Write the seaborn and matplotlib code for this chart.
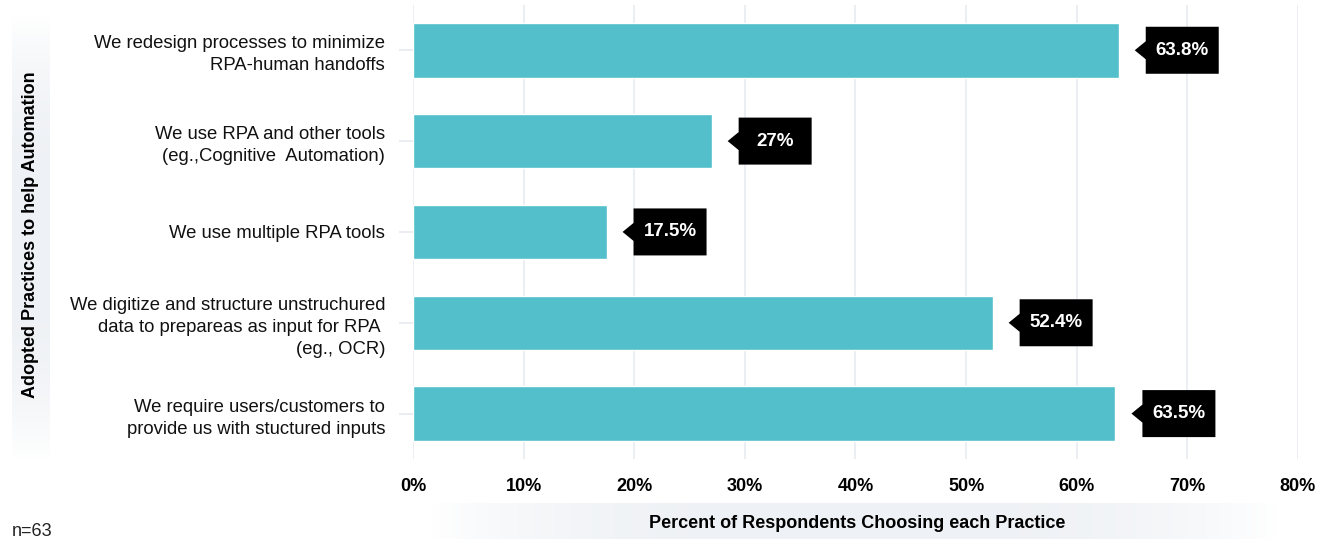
import numpy as np
import pandas as pd
import matplotlib
matplotlib.use("Agg")
import matplotlib.pyplot as plt
import matplotlib.transforms as mtransforms
from matplotlib.patches import Polygon
import seaborn as sns

categories = [
    "We redesign processes to minimize\nRPA-human handoffs",
    "We use RPA and other tools\n(eg.,Cognitive  Automation)",
    "We use multiple RPA tools",
    "We digitize and structure unstruchured\ndata to prepareas as input for RPA \n(eg., OCR)",
    "We require users/customers to\nprovide us with stuctured inputs",
]
values = [63.8, 27, 17.5, 52.4, 63.5]
xticks = [0, 10, 20, 30, 40, 50, 60, 70, 80]
xtick_labels = [f"{t}%" for t in xticks]
x_title = "Percent of Respondents Choosing each Practice"
y_title = "Adopted Practices to help Automation"
note = "n=63"

sns.set_theme(style="white")
plt.rcParams["font.family"] = ["Liberation Sans", "DejaVu Sans"]

df = pd.DataFrame({"practice": categories, "pct": values})

fig = plt.figure(figsize=(13.33, 5.39), dpi=100)
ax = fig.add_axes([0.3098, 0.1484, 0.6639, 0.8426])

sns.barplot(data=df, x="pct", y="practice", color="#52BFCB", saturation=1,
            width=0.6, ax=ax, zorder=3)

ax.set_xlim(0, 80)
ax.set_ylim(4.5, -0.5)
ax.set_xticks(xticks)
ax.set_xticklabels(xtick_labels, fontsize=13, fontweight="bold",
                   family=["Liberation Sans Narrow", "Liberation Sans"])
ax.grid(axis="x", color="#E9EDF2", linewidth=1.3, zorder=0)
ax.grid(axis="y", visible=False)
for s in ax.spines.values():
    s.set_visible(False)
ax.tick_params(axis="x", length=0, pad=14, colors="black")
ax.tick_params(axis="y", left=True, length=10, width=1.2, color="#E6EAF0",
               pad=10, labelsize=13.3, labelcolor="#111111")
for lab in ax.get_yticklabels():
    lab.set_linespacing(1.4)
ax.set_xlabel("")
ax.set_ylabel("")

# value callouts
dpi_scale = fig.dpi / 100.0
for i, v in enumerate(values):
    trans = mtransforms.Affine2D().scale(dpi_scale) + \
        mtransforms.ScaledTranslation(v, i, ax.transData)
    verts = [(16, 0), (27, -9), (27, -23.5), (100, -23.5), (100, 23.5),
             (27, 23.5), (27, 9)]
    poly = Polygon(verts, closed=True, transform=trans, facecolor="black",
                   edgecolor="none", zorder=5, clip_on=False)
    ax.add_patch(poly)
    ax.text(63.5 * dpi_scale, 0, f"{v:g}%", transform=trans, color="white",
            fontsize=13.5, fontweight="bold", ha="center", va="center",
            zorder=6, clip_on=False)

# background panels for axis titles
def gradient_panel(rect, horizontal):
    bax = fig.add_axes(rect, zorder=-1)
    n = 256
    t = np.linspace(-1, 1, n)
    prof = 1 - np.abs(t) ** 3
    if horizontal:
        img = prof[None, :]
    else:
        img = prof[:, None]
    base = np.array([1.0, 1.0, 1.0])
    tint = np.array([0xEE, 0xF1, 0xF5]) / 255.0
    rgb = base[None, None, :] * (1 - img[..., None]) + tint[None, None, :] * img[..., None]
    bax.imshow(rgb, aspect="auto", extent=[0, 1, 0, 1])
    bax.set_axis_off()
    return bax

gradient_panel([12 / 1333, 1 - 460 / 539, 38 / 1333, 445 / 539], horizontal=False)
gradient_panel([428 / 1333, 0, 850 / 1333, 36 / 539], horizontal=True)

fig.text(31 / 1333, 1 - 235 / 539, y_title, rotation=90, ha="center",
         va="center", fontsize=13, fontweight="bold", color="black")
fig.text(857 / 1333, 1 - 523 / 539, x_title, ha="center", va="center",
         fontsize=13, fontweight="bold", color="black",
         family=["Liberation Sans Narrow", "Liberation Sans"])
fig.text(12 / 1333, 1 - 531 / 539, note, ha="left", va="center",
         fontsize=13, color="#222222")

fig.savefig("out.png", dpi=100)
